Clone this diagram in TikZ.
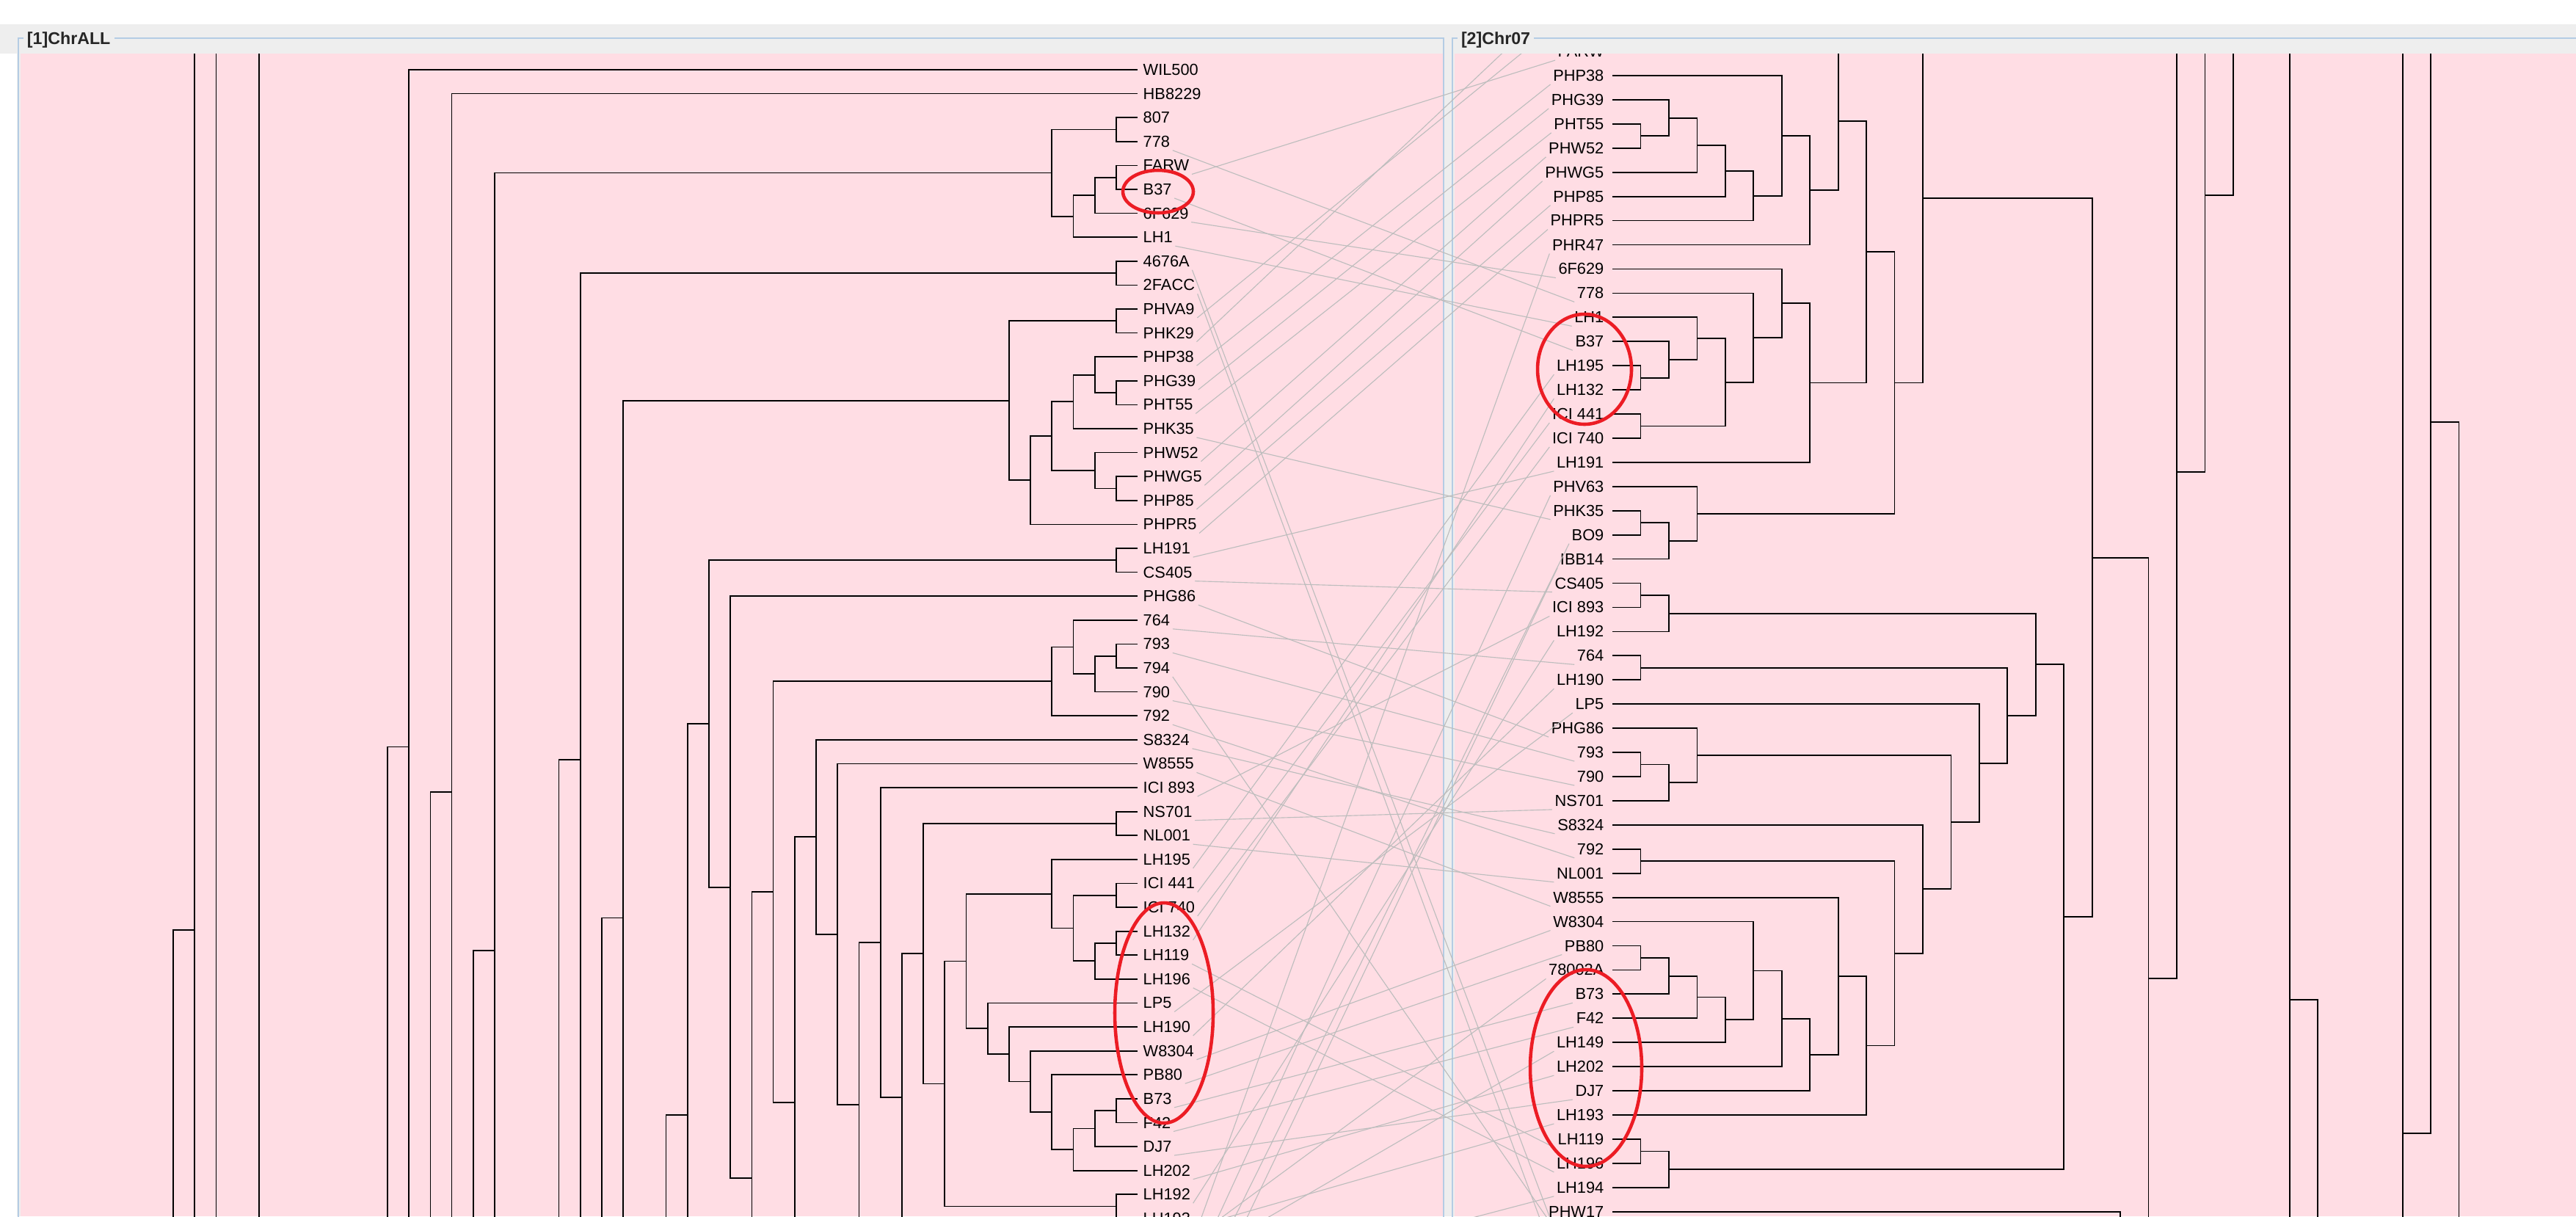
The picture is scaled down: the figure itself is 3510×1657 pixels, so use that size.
\documentclass[tikz,border=0pt]{standalone}
\usepackage{fontspec}
\setmainfont{Liberation Sans}
\usepackage{tikz}
\usetikzlibrary{calc}
\definecolor{plotbg}{HTML}{FFDDE4}
\definecolor{headbg}{HTML}{EEEEEE}
\definecolor{framec}{HTML}{B4CCE4}
\definecolor{tanglec}{HTML}{BDBDBD}
\definecolor{markc}{HTML}{EC1C24}
\tikzset{
  br/.style={black,line width=0.5pt},
  tg/.style={tanglec,line width=0.32pt},
  fr/.style={framec,line width=0.6pt},
  lab/.style={font=\fontsize{6.2}{7}\selectfont,inner sep=0pt},
  ttl/.style={font=\fontsize{6.6}{8}\selectfont\bfseries,inner sep=1.5pt,fill=headbg,text=black!85},
  mk/.style={markc,line width=1.3pt}
}
\newcommand{\jn}[4]{%
  \coordinate (tmp) at ($(#3)!.5!(#4)$);
  \coordinate (#1) at (#2 |- tmp);
  \draw[br] (#3) -| (#1) |- (#4);}

\begin{document}
\begin{tikzpicture}[x=0.01cm,y=-0.01cm]
\useasboundingbox (0,0) rectangle (3510,1657);
\fill[white] (0,0) rectangle (3510,1657);
\fill[headbg] (0,33) rectangle (3510,1657);
\fill[white] (0,73) rectangle (23,1657);
\fill[plotbg] (28,73) rectangle (1966,1657);
\fill[plotbg] (1982,73) rectangle (3510,1657);
\draw[fr] (25,1670) -- (25,52) -- (1967,52) -- (1967,1670);
\draw[fr] (1979,1670) -- (1979,52) -- (3520,52);
\node[ttl,anchor=west] (t1) at (31,54) {[1]ChrALL};
\node[ttl,anchor=west] (t2) at (1985,54) {[2]Chr07};

\foreach \k in {1,...,45} \coordinate (L\k) at ({1550-29.2*\k},0);
\foreach \k in {1,...,30} \coordinate (R\k) at ({2197+38.45*\k},0);

\begin{scope}
\clip (28,73) rectangle (1966,1657);
\foreach \id/\txt [count=\i from 0] in {wil500/WIL500, hb8229/HB8229, n807/807, n778/778, farw/FARW, b37/B37, f629/6F629, lh1/LH1, a4676/4676A, facc/2FACC, phva9/PHVA9, phk29/PHK29, php38/PHP38, phg39/PHG39, pht55/PHT55, phk35/PHK35, phw52/PHW52, phwg5/PHWG5, php85/PHP85, phpr5/PHPR5, lh191/LH191, cs405/CS405, phg86/PHG86, n764/764, n793/793, n794/794, n790/790, n792/792, s8324/S8324, w8555/W8555, ici893/ICI 893, ns701/NS701, nl001/NL001, lh195/LH195, ici441/ICI 441, ici740/ICI 740, lh132/LH132, lh119/LH119, lh196/LH196, lp5/LP5, lh190/LH190, w8304/W8304, pb80/PB80, b73/B73, f42/F42, dj7/DJ7, lh202/LH202, lh192/LH192, lh193/LH193}{
  \coordinate (le-\id) at (1550,{95+32.6*\i});
  \node[lab,anchor=west] (l-\id) at (1557,{95+32.6*\i}) {\txt};
}
\coordinate (o-al) at (1250,1691);
\coordinate (o-an) at (1190,1726);
\coordinate (o-aq) at (1100,1864);
\coordinate (o-as) at (1040,1995);
\coordinate (o-av) at (950,2052);
\coordinate (o-aw) at (920,2400);
\coordinate (o-ba) at (870,1955);
\coordinate (o-bb) at (840,2600);
\coordinate (o-bc) at (810,1698);
\coordinate (o-bd) at (780,2600);
\coordinate (o-be) at (690,2354);
\coordinate (o-bf) at (660,2800);
\coordinate (o-bg) at (630,2030);
\coordinate (o-bh) at (600,2800);
\coordinate (o-bi) at (570,1940);
\coordinate (o-bj) at (540,2800);
\coordinate (o-bk1) at (370,-400);
\coordinate (o-bk2) at (370,3000);
\coordinate (o-bl1) at (310,-400);
\coordinate (o-bl2) at (310,3000);
\coordinate (o-bm1) at (280,-500);
\coordinate (o-bm2) at (280,3034);
\coordinate (o-bn) at (250,3000);
\jn{a}{L1}{le-n807}{le-n778}
\jn{b}{L1}{le-farw}{le-b37}
\jn{c}{L2}{b}{le-f629}
\jn{d}{L3}{c}{le-lh1}
\jn{e}{L4}{a}{d}
\jn{f}{L1}{le-a4676}{le-facc}
\jn{g}{L1}{le-phva9}{le-phk29}
\jn{h}{L1}{le-phg39}{le-pht55}
\jn{i}{L2}{le-php38}{h}
\jn{j}{L3}{i}{le-phk35}
\jn{k}{L1}{le-phwg5}{le-php85}
\jn{l}{L2}{le-phw52}{k}
\jn{m}{L4}{j}{l}
\jn{n}{L5}{m}{le-phpr5}
\jn{o}{L6}{g}{n}
\jn{p}{L1}{le-lh191}{le-cs405}
\jn{q}{L1}{le-n793}{le-n794}
\jn{r}{L2}{q}{le-n790}
\jn{s}{L3}{le-n764}{r}
\jn{t}{L4}{s}{le-n792}
\jn{u}{L1}{le-ns701}{le-nl001}
\jn{v}{L1}{le-ici441}{le-ici740}
\jn{w}{L1}{le-lh132}{le-lh119}
\jn{x}{L2}{w}{le-lh196}
\jn{y}{L3}{v}{x}
\jn{z}{L4}{le-lh195}{y}
\jn{aa}{L1}{le-b73}{le-f42}
\jn{ab}{L2}{aa}{le-dj7}
\jn{ac}{L3}{ab}{le-lh202}
\jn{ad}{L4}{le-pb80}{ac}
\jn{ae}{L5}{le-w8304}{ad}
\jn{af}{L6}{le-lh190}{ae}
\jn{ag}{L7}{le-lp5}{af}
\jn{ah}{L8}{z}{ag}
\jn{ai}{L1}{le-lh192}{le-lh193}
\jn{aj}{L9}{ah}{ai}
\jn{ak}{L10}{u}{aj}
\jn{al}{L11}{ak}{o-al}
\jn{am}{L12}{le-ici893}{al}
\jn{an}{L13}{am}{o-an}
\jn{ao}{L14}{le-w8555}{an}
\jn{ap}{L15}{le-s8324}{ao}
\jn{aq}{L16}{ap}{o-aq}
\jn{ar}{L17}{t}{aq}
\jn{as}{L18}{ar}{o-as}
\jn{at}{L19}{le-phg86}{as}
\jn{au}{L20}{p}{at}
\jn{av}{L21}{au}{o-av}
\jn{aw}{L22}{av}{o-aw}
\jn{ba}{L24}{o}{o-ba}
\jn{bb}{L25}{ba}{o-bb}
\jn{bc}{L26}{f}{o-bc}
\jn{bd}{L27}{bc}{o-bd}
\jn{be}{L30}{e}{o-be}
\jn{bf}{L31}{be}{o-bf}
\jn{bg}{L32}{le-hb8229}{o-bg}
\jn{bh}{L33}{bg}{o-bh}
\jn{bi}{L34}{le-wil500}{o-bi}
\jn{bj}{L35}{bi}{o-bj}
\jn{bk}{L41}{o-bk1}{o-bk2}
\jn{bl}{L43}{o-bl1}{o-bl2}
\jn{bm}{L44}{o-bm1}{o-bm2}
\jn{bn}{L45}{bm}{o-bn}
\end{scope}

\begin{scope}
\clip (1982,73) rectangle (3510,1657);
\foreach \id/\txt [count=\j from -1] in {farw/FARW, php38/PHP38, phg39/PHG39, pht55/PHT55, phw52/PHW52, phwg5/PHWG5, php85/PHP85, phpr5/PHPR5, phr47/PHR47, f629/6F629, n778/778, lh1/LH1, b37/B37, lh195/LH195, lh132/LH132, ici441/ICI 441, ici740/ICI 740, lh191/LH191, phv63/PHV63, phk35/PHK35, bo9/BO9, ibb14/IBB14, cs405/CS405, ici893/ICI 893, lh192/LH192, n764/764, lh190/LH190, lp5/LP5, phg86/PHG86, n793/793, n790/790, ns701/NS701, s8324/S8324, n792/792, nl001/NL001, w8555/W8555, w8304/W8304, pb80/PB80, a78002/78002A, b73/B73, f42/F42, lh149/LH149, lh202/LH202, dj7/DJ7, lh193/LH193, lh119/LH119, lh196/LH196, lh194/LH194, phw17/PHW17}{
  \coordinate (re-\id) at (2197,{103+32.93*\j});
  \node[lab,anchor=east] (r-\id) at (2186,{103+32.93*\j}) {\txt};
}
\coordinate (o-rw) at (2600,19);
\coordinate (o-s24) at (2900,1906);
\coordinate (o-s25) at (2940,-47);
\coordinate (o-s26) at (2980,-111);
\coordinate (o-s27) at (3020,-300);
\coordinate (o-s28) at (2870,2100);
\coordinate (o-s29a) at (3100,-400);
\coordinate (o-s29b) at (3100,3124);
\coordinate (o-s30) at (3140,2600);
\coordinate (o-s31a) at (3250,-400);
\coordinate (o-s31b) at (3250,3488);
\coordinate (o-s32) at (3290,-394);
\coordinate (o-s33) at (3330,2600);
\jn{ra}{R1}{re-pht55}{re-phw52}
\jn{rb}{R2}{re-phg39}{ra}
\jn{rc}{R3}{rb}{re-phwg5}
\jn{rd}{R4}{rc}{re-php85}
\jn{re}{R5}{rd}{re-phpr5}
\jn{rf}{R6}{re-php38}{re}
\jn{rg}{R7}{rf}{re-phr47}
\jn{rh}{R8}{re-farw}{rg}
\jn{rj}{R1}{re-lh195}{re-lh132}
\jn{rk}{R2}{re-b37}{rj}
\jn{rl}{R3}{re-lh1}{rk}
\jn{rm}{R1}{re-ici441}{re-ici740}
\jn{rn}{R4}{rl}{rm}
\jn{ro}{R5}{re-n778}{rn}
\jn{rp}{R6}{re-f629}{ro}
\jn{rq}{R7}{rp}{re-lh191}
\jn{rr}{R9}{rh}{rq}
\jn{rs}{R1}{re-phk35}{re-bo9}
\jn{rt}{R2}{rs}{re-ibb14}
\jn{ru}{R3}{re-phv63}{rt}
\jn{rv}{R10}{rr}{ru}
\jn{rw}{R11}{o-rw}{rv}
\jn{rx}{R1}{re-cs405}{re-ici893}
\jn{ry}{R2}{rx}{re-lh192}
\jn{rz}{R1}{re-n764}{re-lh190}
\jn{s1}{R1}{re-n793}{re-n790}
\jn{s2}{R2}{s1}{re-ns701}
\jn{s3}{R3}{re-phg86}{s2}
\jn{s4}{R1}{re-n792}{re-nl001}
\jn{s5}{R1}{re-pb80}{re-a78002}
\jn{s6}{R2}{s5}{re-b73}
\jn{s7}{R3}{s6}{re-f42}
\jn{s8}{R4}{s7}{re-lh149}
\jn{s9}{R5}{re-w8304}{s8}
\jn{s10}{R6}{s9}{re-lh202}
\jn{s11}{R7}{s10}{re-dj7}
\jn{s12}{R8}{re-w8555}{s11}
\jn{s13}{R9}{s12}{re-lh193}
\jn{s14}{R10}{s4}{s13}
\jn{s15}{R11}{re-s8324}{s14}
\jn{s16}{R12}{s3}{s15}
\jn{s17}{R13}{re-lp5}{s16}
\jn{s18}{R14}{rz}{s17}
\jn{s19}{R15}{ry}{s18}
\jn{s20}{R1}{re-lh119}{re-lh196}
\jn{s21}{R2}{s20}{re-lh194}
\jn{s22}{R16}{s19}{s21}
\jn{s23}{R17}{rw}{s22}
\jn{s24}{R19}{s23}{o-s24}
\jn{s25}{R20}{o-s25}{s24}
\jn{s26}{R21}{o-s26}{s25}
\jn{s27}{R22}{o-s27}{s26}
\jn{s28}{R18}{re-phw17}{o-s28}
\jn{s29}{R24}{o-s29a}{o-s29b}
\jn{s30}{R25}{s29}{o-s30}
\jn{s31}{R28}{o-s31a}{o-s31b}
\jn{s32}{R29}{o-s32}{s31}
\jn{s33}{R30}{s32}{o-s33}
\end{scope}

\begin{scope}
\clip (28,73) rectangle (3510,1657);
\foreach \id in {farw, php38, phg39, pht55, phw52, phwg5, php85, phpr5, f629, n778, lh1, b37, lh195, lh132, ici441, ici740, lh191, phk35, cs405, ici893, lh192, n764, lh190, lp5, phg86, n793, n790, ns701, s8324, n792, nl001, w8555, w8304, pb80, b73, f42, lh202, dj7, lh193, lh119, lh196}
  \draw[tg] ([shift={(3,12)}]l-\id.east) -- ([shift={(-3,12)}]r-\id.west);
\coordinate (xr-a4676) at (2150,1760);
\coordinate (xr-facc) at (2150,1800);
\coordinate (xr-phva9) at (2150,10);
\coordinate (xr-phk29) at (2150,-25);
\coordinate (xr-n794) at (2150,1720);
\foreach \id in {a4676, facc, phva9, phk29, n794}
  \draw[tg] ([shift={(3,12)}]l-\id.east) -- (xr-\id);
\coordinate (xl-phr47) at (1622,1700);
\coordinate (xl-phv63) at (1622,1740);
\coordinate (xl-bo9) at (1622,1780);
\coordinate (xl-ibb14) at (1622,1820);
\coordinate (xl-a78002) at (1622,1690);
\coordinate (xl-lh149) at (1622,1720);
\coordinate (xl-lh194) at (1622,1760);
\coordinate (xl-phw17) at (1622,1800);
\foreach \id in {phr47, phv63, bo9, ibb14, a78002, lh149, lh194, phw17}
  \draw[tg] (xl-\id) -- ([shift={(-3,12)}]r-\id.west);
\end{scope}

\draw[mk] (1578,261) ellipse [x radius=48, y radius=29];
\draw[mk] (1586,1380) ellipse [x radius=67, y radius=150];
\draw[mk] (2159,503) ellipse [x radius=64, y radius=75];
\draw[mk] (2161,1455) ellipse [x radius=76, y radius=134];
\end{tikzpicture}
\end{document}
